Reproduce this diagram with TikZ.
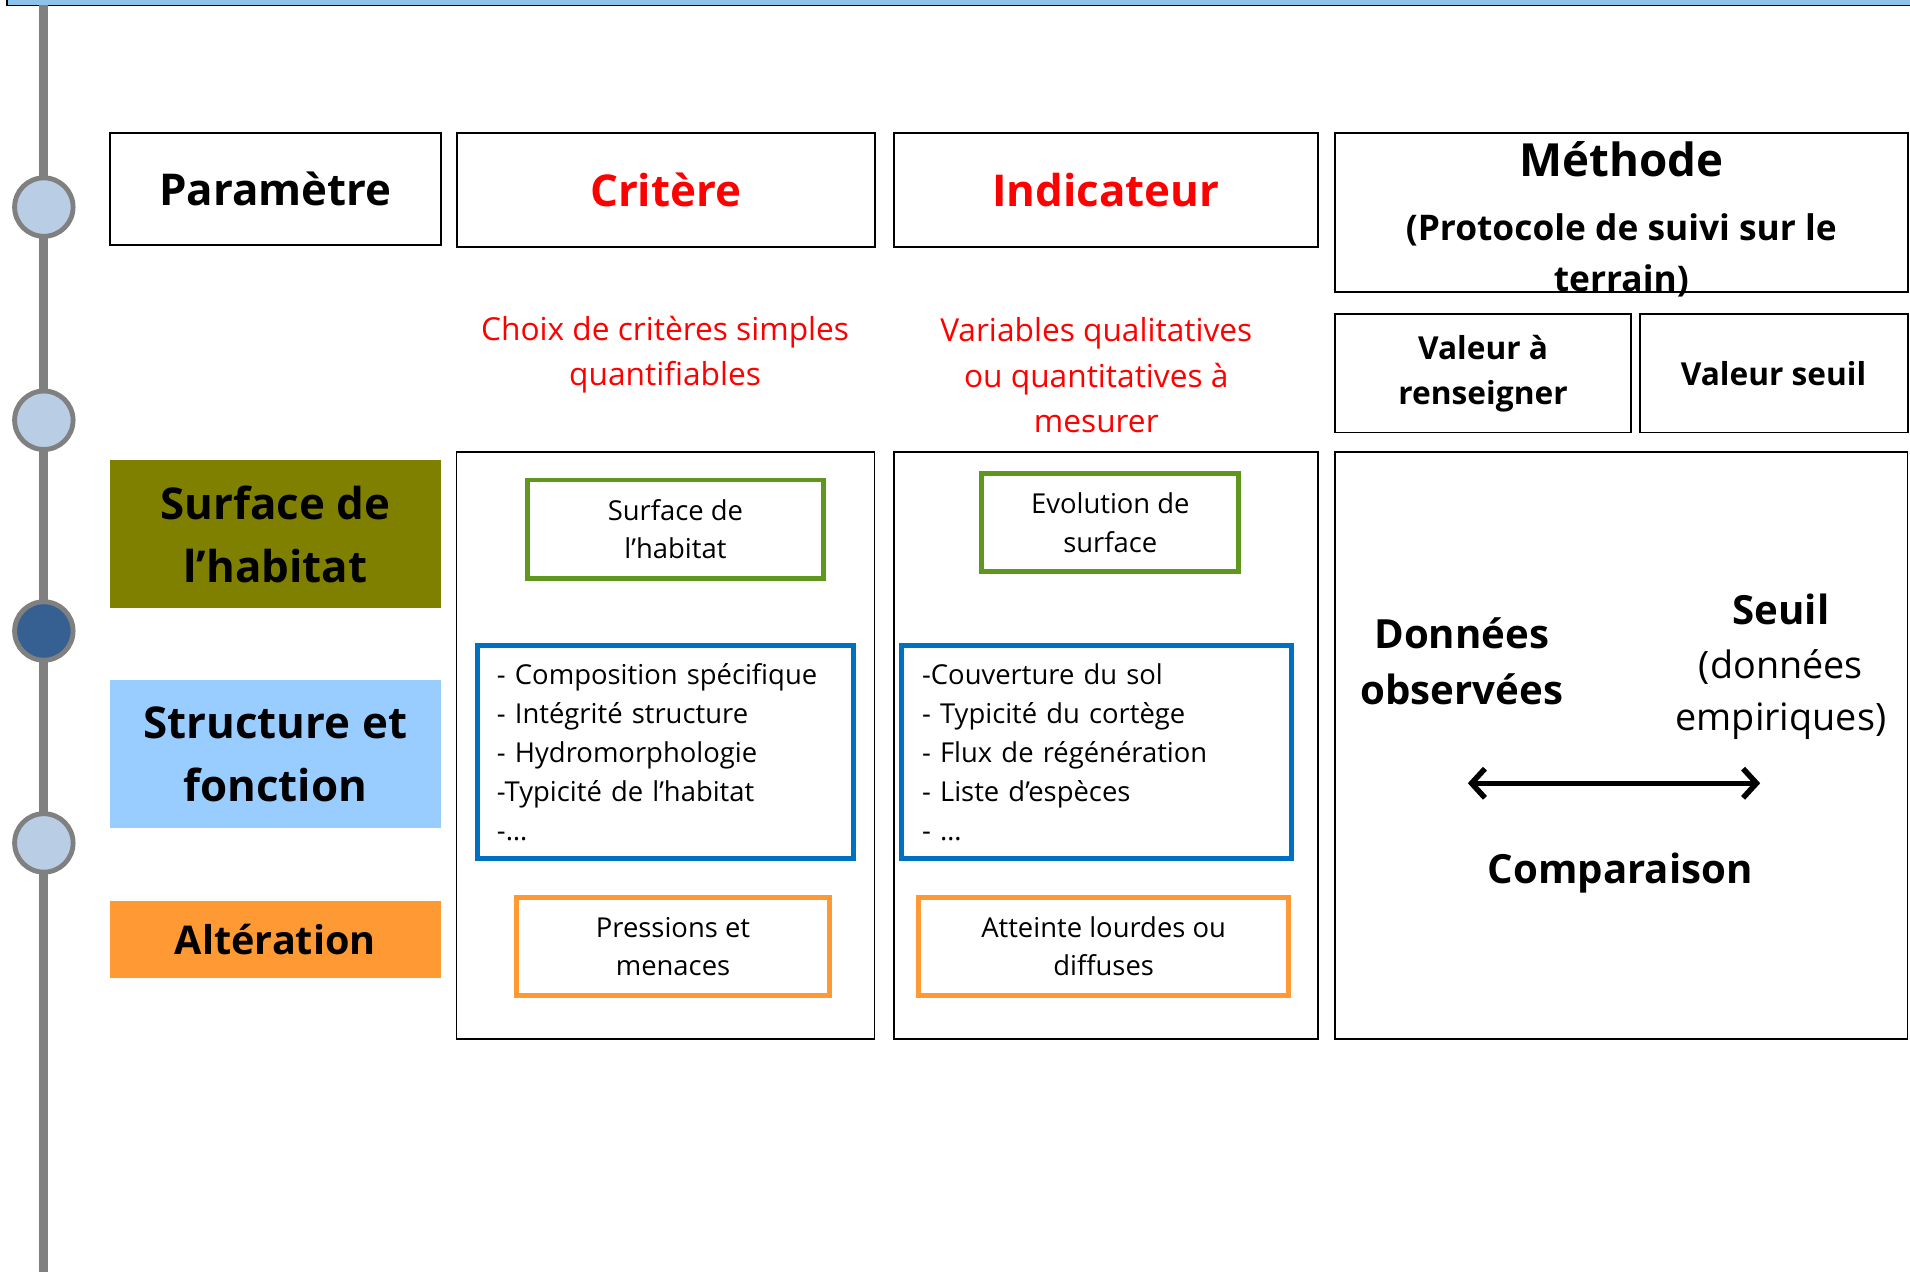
\documentclass[tikz,border=0pt]{standalone}
\usepackage{fontspec}
\setmainfont{Open Sans}
\usetikzlibrary{arrows.meta}

\definecolor{barblue}{RGB}{141,195,235}
\definecolor{railgray}{RGB}{128,128,128}
\definecolor{dotlight}{RGB}{185,205,229}
\definecolor{dotdark}{RGB}{55,96,146}
\definecolor{olive}{RGB}{128,128,0}
\definecolor{skyblue}{RGB}{153,204,255}
\definecolor{orangetag}{RGB}{255,153,51}
\definecolor{greenline}{RGB}{95,150,30}
\definecolor{blueline}{RGB}{0,112,192}

\newcommand\fsz[2]{\fontsize{#1}{#2}\selectfont}

\tikzset{
  headbox/.style={draw, line width=1.5pt, inner sep=0pt, align=center},
  colbox/.style={draw, line width=1pt, inner sep=0pt},
  tagbox/.style={inner sep=0pt, align=center, font=\fsz{36}{52}\bfseries},
  innerbox/.style={draw=#1, line width=4pt, inner sep=0pt, align=center, font=\fsz{22.5}{31.5}},
  listbox/.style={draw=blueline, line width=4pt, inner ysep=0pt, align=left, font=\fsz{22.5}{32}},
  redtxt/.style={text=red, align=center, font=\fsz{26}{37}},
  dot/.style={circle, draw=railgray, line width=4pt, minimum size=48pt, inner sep=0pt}
}

\begin{document}
\begin{tikzpicture}[x=1pt,y=-1pt]
\useasboundingbox (0,0) rectangle (1568,1044);
\clip (0,0) rectangle (1568,1044);

% Bandeau et frise
\draw [fill=barblue, line width=1.5pt] (5.5,-20) rectangle (1600,4.5);
\draw [railgray, line width=7.5pt] (36,4) -- (36,1050);
\foreach \i/\y/\c in {1/170/dotlight, 2/345/dotlight, 3/518/dotdark, 4/692/dotlight}
  \node [dot, fill=\c] (dot\i) at (36,\y) {};

% En-tetes
\node [headbox, minimum width=272pt, minimum height=92pt, font=\fsz{36}{40}\bfseries]
      (param) at (226,155) {Paramètre};
\node [headbox, minimum width=343pt, minimum height=94pt, font=\fsz{36}{40}\bfseries, text=red]
      (crit) at (546.5,156) {Critère};
\node [headbox, minimum width=348pt, minimum height=94pt, font=\fsz{36}{40}\bfseries, text=red]
      (ind) at (908,156) {Indicateur};
\node [headbox, minimum width=470pt, minimum height=131pt] (meth) at (1331,174.5) {};
\node [align=center, inner sep=0pt, font=\fsz{37.5}{42}\bfseries] (methtxt) at (1331,180)
      {Méthode\\[11pt] \fsz{29}{42}(Protocole de suivi sur le\\ \fsz{29}{42}terrain)};
\node [headbox, minimum width=243pt, minimum height=97pt, font=\fsz{26}{37}\bfseries]
      (valren) at (1217.5,306.5) {\strut Valeur à\\ \strut renseigner};
\node [headbox, minimum width=220pt, minimum height=97pt, font=\fsz{26}{37}\bfseries]
      (valseuil) at (1456,306.5) {Valeur seuil};

% Consignes
\node [redtxt] (critnote) at (546,291) {Choix de critères simples\\ quantifiables};
\node [redtxt] (indnote) at (900,308) {Variables qualitatives\\ ou quantitatives à\\ mesurer};

% Parametres
\node [tagbox, fill=olive, minimum width=272pt, minimum height=121pt]
      (surf) at (226,438.5) {Surface de\\ l’habitat};
\node [tagbox, fill=skyblue, minimum width=272pt, minimum height=122pt]
      (struct) at (226,619) {Structure et\\ fonction};
\node [tagbox, fill=orangetag, minimum width=272pt, minimum height=63pt, font=\fsz{32.5}{40}\bfseries]
      (alter) at (226,771.5) {Altération};

% Colonnes
\node [colbox, minimum width=343pt, minimum height=482pt] (colcrit) at (546.5,612) {};
\node [colbox, minimum width=348pt, minimum height=482pt] (colind) at (908,612) {};
\node [colbox, minimum width=470pt, minimum height=482pt] (colmeth) at (1331,612) {};

% Criteres
\node [innerbox=greenline, minimum width=243pt, minimum height=81pt]
      (critsurf) at (554.5,434.5) {Surface de\\ l’habitat};
\node [listbox, inner xsep=16pt, text width=277pt, minimum height=175pt]
      (critstruct) at (546.5,617.5)
      {- Composition spécifique\\ - Intégrité structure\\ - Hydromorphologie\\
       -Typicité de l’habitat\\ -…};
\node [innerbox=orangetag, minimum width=257pt, minimum height=80pt]
      (critalt) at (552.5,777) {Pressions et\\ menaces};

% Indicateurs
\node [innerbox=greenline, minimum width=211pt, minimum height=80pt]
      (indsurf) at (911.5,429) {Evolution de\\ surface};
\node [listbox, inner xsep=17pt, text width=286pt, minimum height=175pt]
      (indstruct) at (900,617.5)
      {-Couverture du sol\\ - Typicité du cortège\\ - Flux de régénération\\
       - Liste d’espèces\\ - …};
\node [innerbox=orangetag, minimum width=304pt, minimum height=80pt]
      (indalt) at (906,777) {Atteinte lourdes ou\\ diffuses};

% Methode
\node [align=center, font=\fsz{33}{46}\bfseries] (donnees) at (1200,543) {Données\\ observées};
\node [align=center, font=\fsz{33}{42}\bfseries] (seuil) at (1462,547)
      {Seuil\\[3pt] \fsz{31}{42}\mdseries (données\\ \fsz{31}{42}\mdseries empiriques)};
\coordinate (cmpL) at (1205,643);
\coordinate (cmpR) at (1445,643);
\draw [{Straight Barb[length=11pt,width=24pt]}-{Straight Barb[length=11pt,width=24pt]},
       line width=4.5pt] (cmpL) -- (cmpR);
\node [font=\fsz{33}{40}\bfseries] (comp) at (1330,717) {Comparaison};

\end{tikzpicture}
\end{document}
